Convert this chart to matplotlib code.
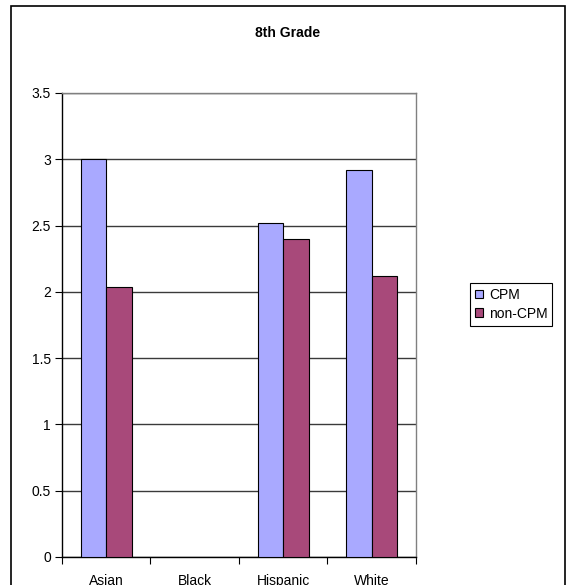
import numpy as np
import matplotlib
matplotlib.use("Agg")
import matplotlib.pyplot as plt
from matplotlib.patches import Rectangle, Patch

plt.rcParams['font.family'] = ['Liberation Sans', 'DejaVu Sans']

categories = ["Asian", "Black", "Hispanic", "White"]
cpm = [3.00, np.nan, 2.52, 2.92]
non_cpm = [2.04, np.nan, 2.40, 2.12]
series_names = ["CPM", "non-CPM"]
y_ticks = [0, 0.5, 1, 1.5, 2, 2.5, 3, 3.5]
y_tick_labels = ["0", "0.5", "1", "1.5", "2", "2.5", "3", "3.5"]

W, H = 568, 585
fig = plt.figure(figsize=(W / 100, H / 100), dpi=100)
fig.patch.set_facecolor("white")

# chart-area border (runs off the bottom edge)
fig.patches.append(Rectangle((11 / W, -0.05), (565 - 11) / W, 1.05 - 6 / H,
                             transform=fig.transFigure, fill=False,
                             edgecolor="black", linewidth=1.2, clip_on=False))

ax_l, ax_r, ax_t, ax_b = 62, 416, 93, 557
ax = fig.add_axes([ax_l / W, 1 - ax_b / H, (ax_r - ax_l) / W, (ax_b - ax_t) / H])

x = np.arange(len(categories))
bw = 1 / 3.5
colors = ["#A9A9FF", "#A8497A"]
ax.bar(x - bw / 2, cpm, width=bw, color=colors[0], edgecolor="black",
       linewidth=0.8, zorder=3)
ax.bar(x + bw / 2, non_cpm, width=bw, color=colors[1], edgecolor="black",
       linewidth=0.8, zorder=3)

ax.set_xlim(-0.5, len(categories) - 0.5)
ax.set_ylim(0, 3.5)
ax.set_yticks(y_ticks)
ax.set_yticklabels(y_tick_labels, fontsize=10)
ax.yaxis.grid(True, color="#3a3a3a", linewidth=1, zorder=1)

# category labels between boundary ticks
ax.set_xticks(np.arange(-0.5, len(categories), 1))
ax.set_xticklabels([])
ax.set_xticks(x, minor=True)
ax.set_xticklabels(categories, minor=True, fontsize=10)
ax.tick_params(axis="x", which="minor", length=0, pad=12)
ax.tick_params(axis="x", which="major", length=5, direction="out", color="black")
ax.tick_params(axis="y", length=5, direction="out", color="black", pad=3)

for side in ("top", "right"):
    ax.spines[side].set_color("#808080")
for side in ("left", "bottom"):
    ax.spines[side].set_color("black")
for s in ax.spines.values():
    s.set_linewidth(1)

fig.text(288 / W, 1 - 33 / H, "8th Grade", ha="center", va="center",
         fontsize=10, fontweight="bold")

handles = [Patch(facecolor=c, edgecolor="black", linewidth=0.8) for c in colors]
leg = fig.legend(handles, series_names, loc="upper left",
                 bbox_to_anchor=(470 / W, 1 - 283 / H), fontsize=10,
                 frameon=True, fancybox=False, edgecolor="black",
                 framealpha=1, handlelength=0.6, handleheight=0.6,
                 handletextpad=0.4, borderpad=0.35, labelspacing=0.35,
                 borderaxespad=0)
leg.get_frame().set_linewidth(0.8)

fig.savefig("out.png", dpi=100)
